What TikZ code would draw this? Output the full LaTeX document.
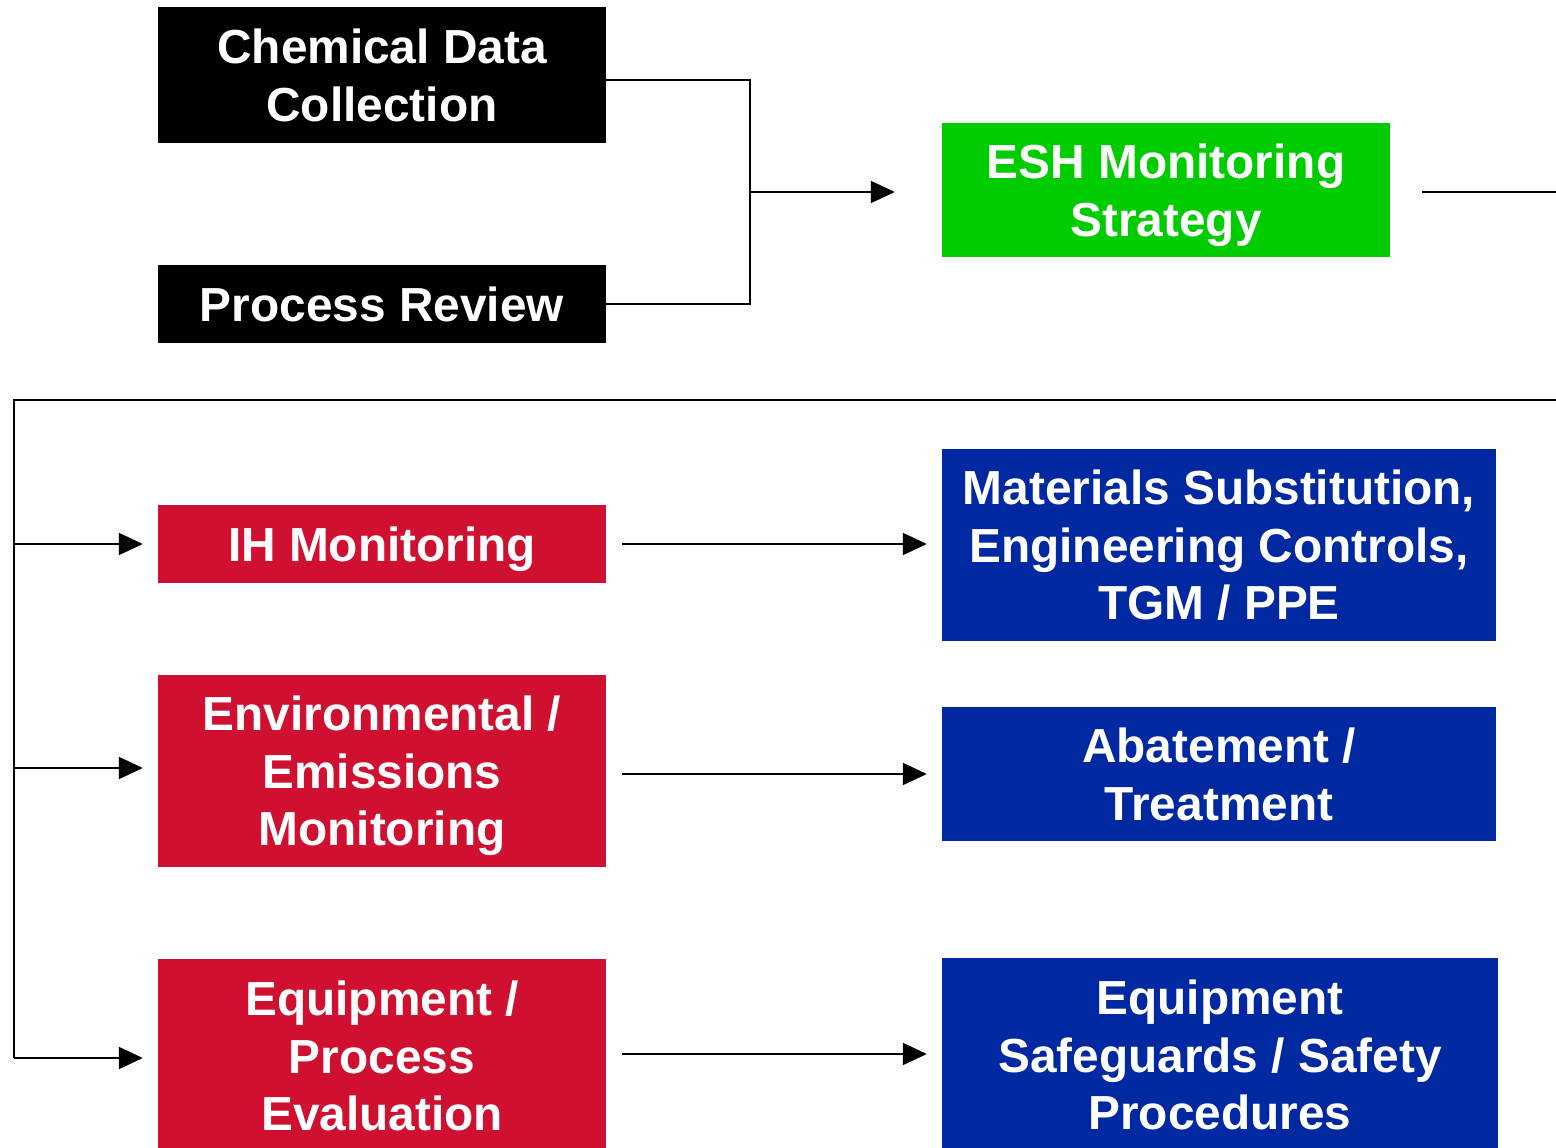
\documentclass[tikz,border=0pt]{standalone}
\usepackage{fontspec}
\setmainfont{Liberation Sans}
\usetikzlibrary{arrows.meta}
\definecolor{boxblack}{RGB}{0,0,0}
\definecolor{boxgreen}{RGB}{0,204,0}
\definecolor{boxred}{RGB}{208,16,48}
\definecolor{boxblue}{RGB}{0,40,160}
\begin{document}
\begin{tikzpicture}[x=1pt,y=-1pt,
  box/.style={draw=none,fill=#1,text=white,align=center,inner sep=0pt,
    text depth=0pt,font=\fontsize{47.8}{57.5}\selectfont\bfseries},
  wide/.style={minimum width=448pt},
  wider/.style={minimum width=554pt},
  link/.style={draw=black,line width=2pt},
  arr/.style={link,-{Triangle[length=24pt,width=22pt]}}]
\useasboundingbox (0,0) rectangle (1556,1148);
\clip (0,0) rectangle (1556,1148);

% input boxes
\node[box=boxblack,wide,minimum height=136pt] (chem) at (382,75) {Chemical Data\\Collection};
\node[box=boxblack,wide,minimum height=78pt] (proc) at (382,304) {Process Review};

% strategy
\node[box=boxgreen,wide,minimum height=134pt] (esh) at (1166,190) {ESH Monitoring\\Strategy};

% monitoring boxes
\node[box=boxred,wide,minimum height=78pt] (ih) at (382,544) {IH Monitoring};
\node[box=boxred,wide,minimum height=192pt] (env) at (382,771) {Environmental /\\Emissions\\Monitoring};
\node[box=boxred,wide,minimum height=194pt] (eqp) at (382,1056) {Equipment /\\Process\\Evaluation};

% control boxes
\node[box=boxblue,wider,minimum height=192pt] (mat) at (1219,545) {Materials Substitution,\\Engineering Controls,\\TGM / PPE};
\node[box=boxblue,wider,minimum height=134pt] (abt) at (1219,774) {Abatement /\\Treatment};
\node[box=boxblue,minimum width=556pt,minimum height=194pt] (saf) at (1220,1055) {Equipment\\Safeguards / Safety\\Procedures};

% merge of the two inputs
\coordinate (j) at (750,192);
\draw[link] ([yshift=-5pt]chem.east) -| (j);
\draw[link] (proc.east) -| (j);
\draw[arr,shorten >=47pt] (j) -- (j -| esh.west);

% feedback line round to the monitoring boxes
\coordinate (redge) at (1560,192);
\coordinate (top) at (1560,400);
\coordinate (left) at (14,400);
\draw[link,shorten <=32pt] (esh.east |- redge) -- (redge);
\draw[link] (top) -- (left) -- (14,1058);
\draw[arr,shorten >=15pt] (left |- ih.west) -- (ih.west);
\draw[arr,shorten >=15pt] ([yshift=3pt]left |- env.west) -- ([yshift=3pt]env.west);
\draw[arr,shorten >=15pt] ([yshift=-2pt]left |- eqp.west) -- ([yshift=-2pt]eqp.west);

% monitoring to controls
\draw[arr,shorten <=16pt,shorten >=15pt] (ih.east) -- (ih.east -| mat.west);
\draw[arr,shorten <=16pt,shorten >=15pt] (abt.west -| env.east) -- (abt.west);
\draw[arr,shorten <=16pt,shorten >=15pt] ([yshift=2pt]eqp.east) -- ([yshift=2pt]eqp.east -| saf.west);
\end{tikzpicture}
\end{document}
